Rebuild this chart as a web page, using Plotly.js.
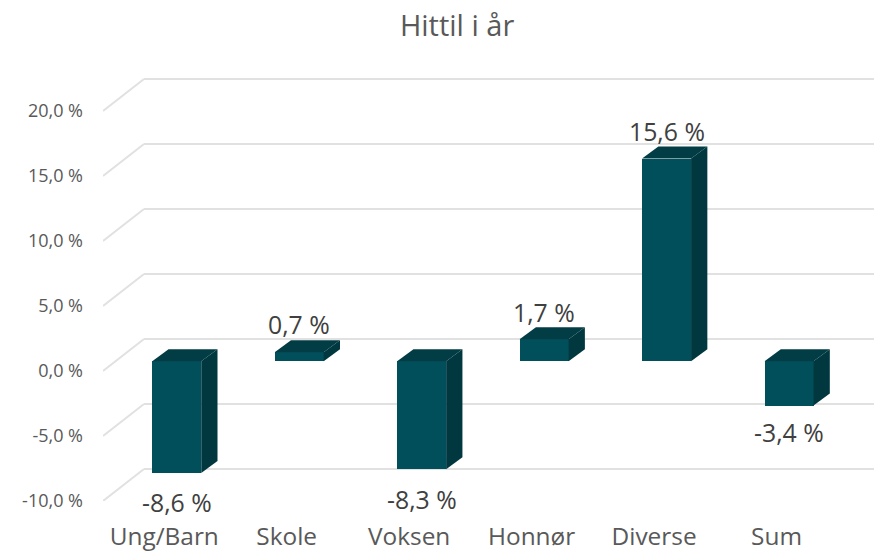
<!DOCTYPE html>
<html><head><meta charset="utf-8">
<script src="https://cdn.plot.ly/plotly-3.0.1.min.js"></script>
<style>html,body{margin:0;padding:0;background:#fff}#c{width:874px;height:553px}</style>
</head><body><div id="c"></div>
<script>
const categories = ["Ung/Barn","Skole","Voksen","Honnør","Diverse","Sum"];
const values = [-8.6,0.7,-8.3,1.7,15.6,-3.4];
const valueLabels = ["-8,6 %","0,7 %","-8,3 %","1,7 %","15,6 %","-3,4 %"];
const tickValues = [-10,-5,0,5,10,15,20];
const tickLabels = ["-10,0 %","-5,0 %","0,0 %","5,0 %","10,0 %","15,0 %","20,0 %"];

const frontColor = "#024F5C", sideColor = "#013840", topColor = "#023C45";
const gridColor = "#E1E1E1", tickColor = "#595959", labelColor = "#404040";

// axis scale: 122.5 px per category, 13 px per percentage point
const pxX = 122.5, pxY = 13;
const barShiftX = 12.5/pxX, barShiftY = 9.7/pxY;   // bar front plane vs. axis plane
const barW = 49/pxX;
const depthX = 16.3/pxX, depthY = 12/pxY;          // bar depth
const wallX = 41/pxX, wallY = 32/pxY;              // back wall vs. axis plane
const xLo = -0.5, xHi = 5.5 + 36.25/pxX;

const x = categories.map((_, i) => i);
const traces = [{
  type:"bar", x:x.map(v=>v+barShiftX), y:values, base:values.map(()=>barShiftY),
  width:barW, marker:{color:frontColor,line:{width:0}}, hoverinfo:"skip", showlegend:false
}];
function face(xs, ys, color){
  traces.push({type:"scatter",mode:"lines",x:xs,y:ys,fill:"toself",fillcolor:color,
    line:{width:0,color:color},hoverinfo:"skip",showlegend:false,cliponaxis:false});
}
values.forEach((v,i)=>{
  const l = i+barShiftX-barW/2, r = l+barW;
  const lo = Math.min(v,0)+barShiftY, hi = Math.max(v,0)+barShiftY;
  face([r,r+depthX,r+depthX,r,r],[lo,lo+depthY,hi+depthY,hi,lo],sideColor);
  face([l,l+depthX,r+depthX,r,l],[hi,hi+depthY,hi+depthY,hi,hi],topColor);
});
const shapes = [];
tickValues.forEach(t=>{
  const line = (a,b,c,d)=>shapes.push({type:"line",layer:"below",xref:"x",yref:"y",x0:a,y0:b,x1:c,y1:d,
    line:{color:gridColor,width:2}});
  line(xLo,t,xLo+wallX,t+wallY);
  line(xLo+wallX,t+wallY,xHi,t+wallY);
});
const labelOffsets = [-29,28,-30,27,28,-26]; // px between bar end and text centre
const annotations = values.map((v,i)=>({
  xref:"x",yref:"y",x:i+barShiftX,y:v+barShiftY,text:valueLabels[i],showarrow:false,
  yshift:labelOffsets[i],xanchor:"center",yanchor:"middle",
  font:{family:"Open Sans",size:24.8,color:labelColor}
}));
Plotly.newPlot("c",traces,{
  width:874,height:553,paper_bgcolor:"#fff",plot_bgcolor:"#fff",showlegend:false,
  margin:{l:102.75,r:0,t:32.7,b:52.3,pad:0},
  title:{text:"Hittil i år",x:0.523,xanchor:"center",y:0.953,yanchor:"middle",
    font:{family:"Open Sans",size:29,color:tickColor}},
  bargap:0,
  xaxis:{type:"linear",range:[xLo,xHi],tickvals:x,ticktext:categories,showgrid:false,zeroline:false,
    showline:false,ticks:"",tickfont:{family:"Open Sans",size:24.4,color:tickColor},ticklabelstandoff:19},
  yaxis:{range:[-10,26],tickvals:tickValues,ticktext:tickLabels,showgrid:false,zeroline:false,
    showline:false,ticks:"",tickfont:{family:"Open Sans",size:18,color:tickColor},ticklabelstandoff:19},
  shapes,annotations
},{displayModeBar:false,staticPlot:true});
</script></body></html>
